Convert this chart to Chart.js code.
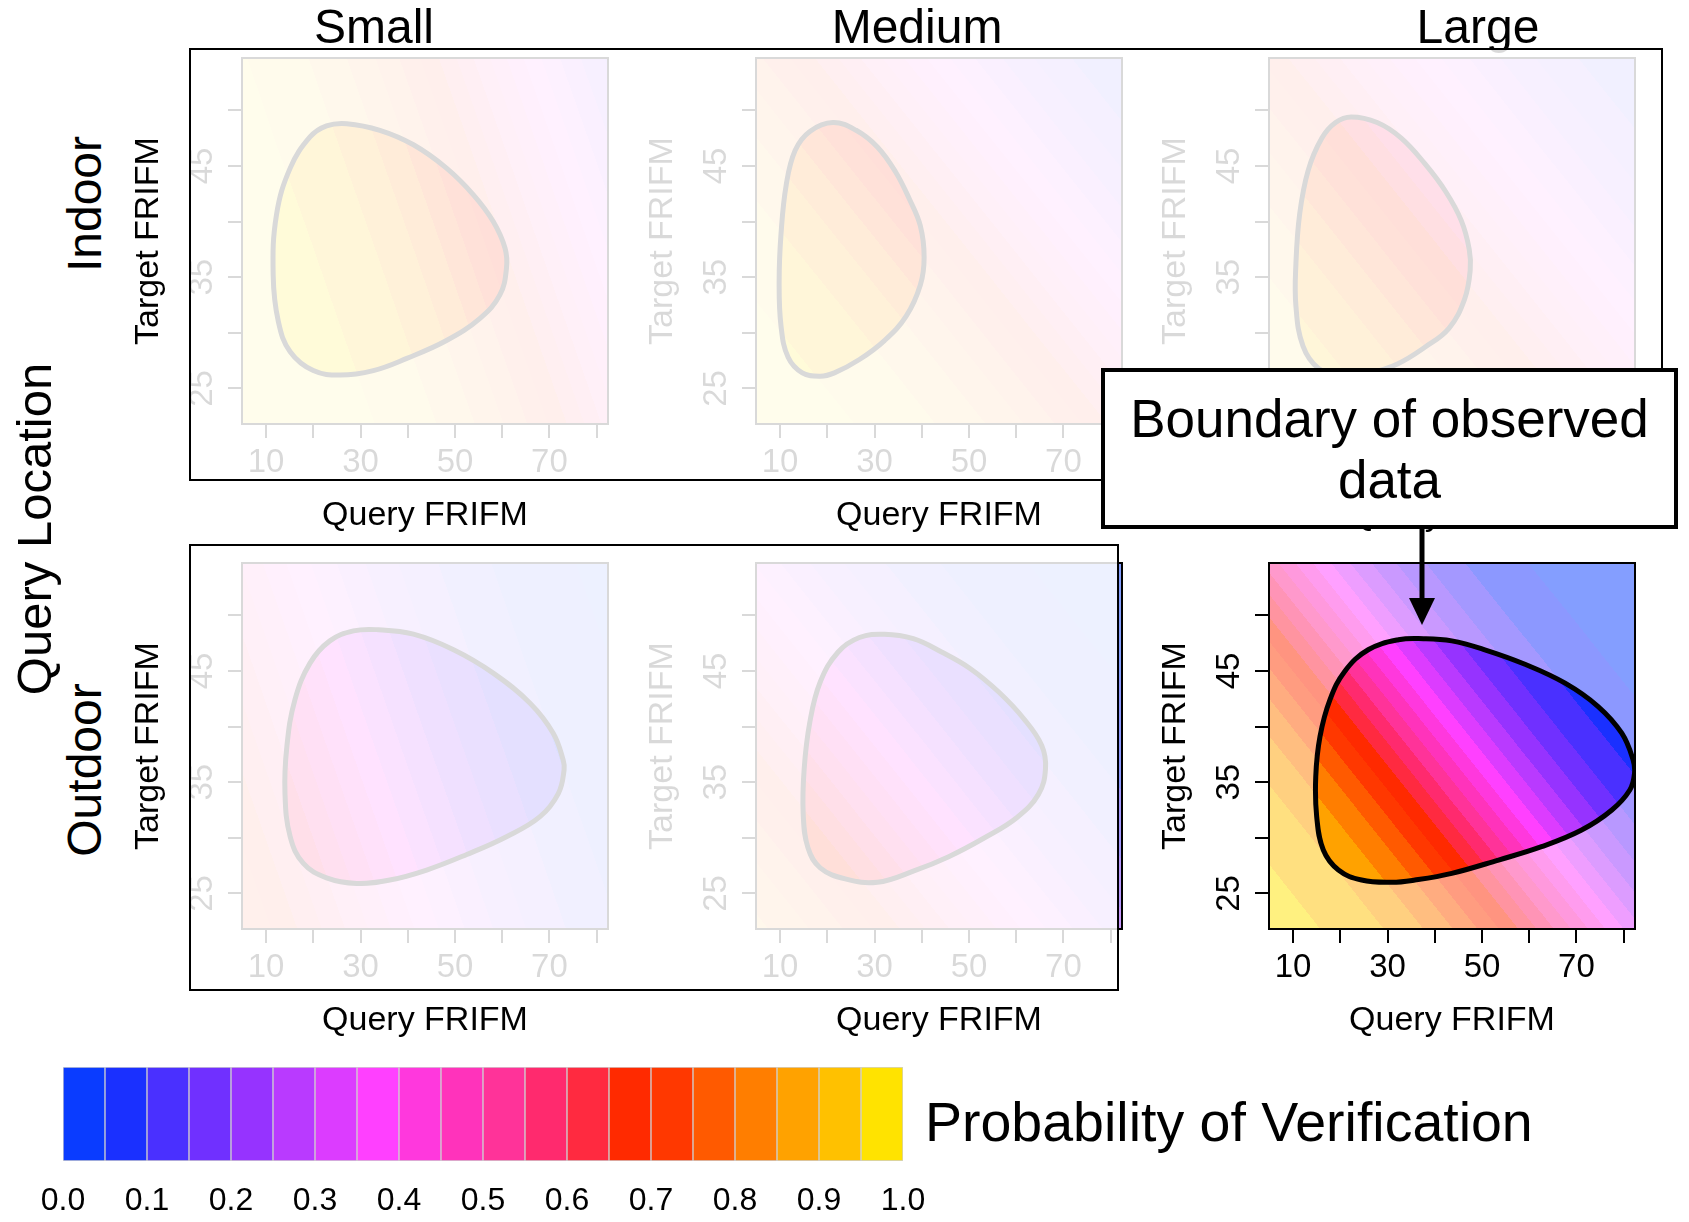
<!DOCTYPE html>
<html>
<head>
<meta charset="utf-8">
<script src="https://cdn.jsdelivr.net/npm/chart.js@4.4.1/dist/chart.umd.min.js"></script>
<style>
html, body { margin: 0; padding: 0; background: #fff; }
#page { position: relative; width: 1689px; height: 1222px; overflow: hidden;
        font-family: "Liberation Sans", Arial, Helvetica, sans-serif; color: #000; }
#page canvas { position: absolute; }
.lbl { position: absolute; white-space: nowrap; line-height: 1; z-index: 1; }
.side { z-index: 3; }
.fade { position: absolute; box-sizing: border-box; border: 2px solid #000;
        background: rgba(255,255,255,0.85); z-index: 2; }
#note { position: absolute; box-sizing: border-box; left: 1101px; top: 368px; width: 577px; height: 161px;
        border: 4px solid #000; background: #fff; z-index: 4; }
#noteText { position: absolute; left: 1101px; top: 389px; width: 577px; text-align: center;
            font-size: 53px; line-height: 60.5px; z-index: 5; }
#arrow { position: absolute; left: 0; top: 0; z-index: 5; }
</style>
</head>
<body>
<div id="page">
  <div id="note"></div>
  <div id="noteText">Boundary of observed<br>data</div>
  <svg id="arrow" width="1689" height="1222">
    <line x1="1422" y1="529" x2="1422" y2="600" stroke="#000" stroke-width="5"/>
    <polygon points="1409,598 1435,598 1422,625" fill="#000"/>
  </svg>
</div>
<script>
/* ============================================================
   Probability of verification – 2 x 3 panels + colour key
   ============================================================ */

const FONT = '"Liberation Sans", Arial, Helvetica, sans-serif';
Chart.defaults.font.family = FONT;

/* ── axes ── */
const xRange = [4.9, 82.4];
const yRange = [21.8, 54.7];
const xTickVals = [10, 20, 30, 40, 50, 60, 70, 80];
const xTickLabels = [10, 30, 50, 70];
const yTickVals = [25, 30, 35, 40, 45, 50];
const yTickLabels = [25, 35, 45];

const sizeNames = ['Small', 'Medium', 'Large'];
const locationNames = ['Indoor', 'Outdoor'];

/* ── colour key ── */
const keyBreaks = [0, 0.05, 0.1, 0.15, 0.2, 0.25, 0.3, 0.35, 0.4, 0.45, 0.5,
                   0.55, 0.6, 0.65, 0.7, 0.75, 0.8, 0.85, 0.9, 0.95, 1];
const keyColors = ['#0a3cff', '#1a30ff', '#4a30ff', '#7030ff', '#9633ff', '#b93aff', '#dc3cff',
                   '#ff40ff', '#ff38dd', '#ff33bb', '#ff3399', '#ff2a6e', '#ff2a40', '#ff2a00',
                   '#ff3800', '#ff5a00', '#ff7e00', '#ffa200', '#ffc100', '#ffe300'];
const keyTickVals = [0, 0.1, 0.2, 0.3, 0.4, 0.5, 0.6, 0.7, 0.8, 0.9, 1];

/* ── probability surface, read at grid nodes (rows: bottom -> top) ── */
const probX = [4.9, 24.3, 43.65, 63.0, 82.4];
const probY = [21.8, 30.0, 38.25, 46.5, 54.7];

const probSmallIndoor = [
  [0.989, 0.969, 0.912, 0.774, 0.530],
  [0.985, 0.955, 0.875, 0.699, 0.434],
  [0.978, 0.935, 0.827, 0.612, 0.342],
  [0.967, 0.907, 0.764, 0.517, 0.261],
  [0.953, 0.869, 0.687, 0.421, 0.193]
];
const probMediumIndoor = [
  [0.979, 0.953, 0.897, 0.790, 0.619],
  [0.960, 0.912, 0.817, 0.658, 0.454],
  [0.924, 0.840, 0.695, 0.496, 0.298],
  [0.861, 0.728, 0.537, 0.334, 0.178],
  [0.761, 0.579, 0.373, 0.205, 0.100]
];
const probLargeIndoor = [
  [0.959, 0.917, 0.841, 0.715, 0.544],
  [0.928, 0.860, 0.745, 0.582, 0.398],
  [0.877, 0.772, 0.617, 0.434, 0.267],
  [0.797, 0.651, 0.470, 0.297, 0.168],
  [0.684, 0.508, 0.330, 0.190, 0.100]
];
const probSmallOutdoor = [
  [0.751, 0.575, 0.378, 0.214, 0.109],
  [0.695, 0.505, 0.315, 0.171, 0.085],
  [0.632, 0.435, 0.257, 0.135, 0.065],
  [0.565, 0.368, 0.207, 0.105, 0.050],
  [0.495, 0.306, 0.165, 0.082, 0.038]
];
const probMediumOutdoor = [
  [0.863, 0.743, 0.572, 0.381, 0.221],
  [0.772, 0.609, 0.418, 0.249, 0.132],
  [0.645, 0.456, 0.279, 0.151, 0.076],
  [0.494, 0.310, 0.172, 0.087, 0.042],
  [0.345, 0.195, 0.101, 0.049, 0.023]
];
const probLargeOutdoor = [
  [0.972, 0.922, 0.802, 0.581, 0.320],
  [0.937, 0.834, 0.632, 0.370, 0.166],
  [0.862, 0.680, 0.420, 0.198, 0.078],
  [0.725, 0.473, 0.234, 0.095, 0.034],
  [0.528, 0.275, 0.115, 0.042, 0.015]
];

/* ── boundary of observed data [query, target] ── */
const boundSmallIndoor = [[27.1,48.8],[34.1,48.2],[41.2,46.9],[48.2,44.8],[53.9,42.4],[58.1,40.0],[60.6,37.6],
  [60.9,35.8],[59.5,33.4],[55.3,31.3],[48.2,29.3],[39.8,27.7],[32.7,26.6],[25.7,26.2],[20.0,26.6],[15.1,28.3],
  [12.6,31.0],[11.5,35.2],[12.2,40.6],[15.1,44.8],[19.3,47.6],[22.8,48.6]];
const boundMediumIndoor = [[21.2,48.9],[26.1,48.2],[30.6,46.7],[34.4,44.5],[37.4,42.0],[39.7,39.6],[40.5,36.8],
  [39.7,34.3],[36.7,31.5],[32.1,29.3],[26.8,27.6],[21.5,26.4],[18.5,26.1],[14.7,26.4],[11.7,27.8],[10.2,30.6],
  [9.8,34.6],[10.2,38.9],[11.3,43.3],[13.2,46.4],[16.3,48.1]];
const boundLargeIndoor = [[22.3,49.4],[27.8,48.9],[32.9,47.5],[37.9,45.2],[42.3,42.7],[45.6,40.1],[47.3,37.5],
  [47.5,35.6],[46.3,33.0],[43.0,30.4],[37.9,28.7],[32.1,27.2],[26.3,26.4],[20.5,26.1],[15.4,26.8],[12.1,28.8],
  [10.6,32.4],[10.6,36.2],[11.4,40.7],[13.2,44.6],[16.1,47.5],[19.0,48.9]];
const boundSmallOutdoor = [[33.8,48.7],[41.2,48.3],[49.7,46.9],[58.1,44.8],[65.9,42.1],[70.8,39.4],[72.9,37.0],
  [73.1,36.1],[71.9,34.0],[68.0,31.9],[60.9,30.1],[52.5,28.5],[44.0,27.1],[36.2,26.2],[29.2,25.9],[22.8,26.4],
  [17.9,27.7],[15.1,30.1],[14.0,34.0],[14.4,38.2],[16.1,42.4],[19.3,45.7],[23.5,47.7],[28.5,48.6]];
const boundMediumOutdoor = [[32.1,48.3],[38.2,47.9],[44.2,46.7],[50.3,45.2],[56.3,43.1],[61.6,40.7],[65.4,38.3],
  [66.2,36.2],[64.7,33.9],[60.1,31.8],[53.3,30.0],[45.7,28.3],[38.2,27.0],[30.6,26.0],[23.8,26.3],[18.5,27.3],
  [15.9,29.1],[14.9,32.1],[15.1,36.2],[16.3,40.4],[18.5,44.0],[22.3,46.7],[26.8,48.0]];
const boundLargeOutdoor = [[37.6,47.9],[43.6,47.7],[50.6,46.9],[59.1,45.6],[67.6,43.9],[74.6,41.8],[79.6,39.4],
  [82.0,37.0],[82.3,35.8],[81.3,34.3],[77.5,32.5],[71.1,30.7],[62.6,29.2],[53.5,28.0],[43.6,26.8],[35.8,26.2],
  [30.9,26.0],[24.5,26.2],[19.6,27.1],[16.4,28.9],[15.0,31.9],[14.8,35.5],[15.7,39.1],[17.8,42.4],[21.0,45.0],
  [25.9,46.9],[32.3,47.8]];

const panels = [
  { col: 0, row: 0, prob: probSmallIndoor,   bound: boundSmallIndoor },
  { col: 1, row: 0, prob: probMediumIndoor,  bound: boundMediumIndoor },
  { col: 2, row: 0, prob: probLargeIndoor,   bound: boundLargeIndoor },
  { col: 0, row: 1, prob: probSmallOutdoor,  bound: boundSmallOutdoor },
  { col: 1, row: 1, prob: probMediumOutdoor, bound: boundMediumOutdoor },
  { col: 2, row: 1, prob: probLargeOutdoor,  bound: boundLargeOutdoor }
];

/* ── page geometry (px) ── */
const plotLeft = [242, 756, 1269];
const plotTop = [58, 563];
const PLOT = 366, PAD_L = 120, PAD_T = 12, PAD_R = 20, AX_H = 115;

const page = document.getElementById('page');

/* ── helpers ── */
const hexRgb = h => [1, 3, 5].map(i => parseInt(h.slice(i, i + 2), 16));
const keyRgb = keyColors.map(hexRgb);
const logit = p => { const q = Math.min(0.999, Math.max(0.001, p)); return Math.log(q / (1 - q)); };

function locate(nodes, v) {
  let i = 0;
  while (i < nodes.length - 2 && v > nodes[i + 1]) i++;
  const t = Math.min(1, Math.max(0, (v - nodes[i]) / (nodes[i + 1] - nodes[i])));
  return [i, t];
}
// the node table is read between nodes on the logit scale
function probAt(lgrid, x, y) {
  const [i, tx] = locate(probX, x);
  const [j, ty] = locate(probY, y);
  const lo = lgrid[j][i] * (1 - tx) + lgrid[j][i + 1] * tx;
  const hi = lgrid[j + 1][i] * (1 - tx) + lgrid[j + 1][i + 1] * tx;
  return 1 / (1 + Math.exp(-(lo * (1 - ty) + hi * ty)));
}

function binOf(p) {
  for (let k = 0; k < keyColors.length; k++) if (p < keyBreaks[k + 1]) return k;
  return keyColors.length - 1;
}

/* Filled level plot: pale outside the boundary, full colour inside */
const levelPlugin = {
  id: 'level',
  beforeDatasetUpdate(chart, args) { if (args.meta.dataset) args.meta.dataset._loop = true; },
  afterDatasetUpdate(chart, args) { if (args.meta.dataset) args.meta.dataset._loop = true; },
  beforeDatasetsDraw(chart) {
    const lgrid = chart.options.plugins.level.grid.map(r => r.map(logit));
    const { ctx, chartArea: a, scales: { x, y } } = chart;
    const w = Math.round(a.right - a.left), h = Math.round(a.bottom - a.top);
    const full = document.createElement('canvas'), pale = document.createElement('canvas');
    full.width = pale.width = w; full.height = pale.height = h;
    const fctx = full.getContext('2d'), pctx = pale.getContext('2d');
    const fi = fctx.createImageData(w, h), pi = pctx.createImageData(w, h);
    const xv = [];
    for (let i = 0; i < w; i++) xv.push(x.getValueForPixel(a.left + i + 0.5));
    for (let j = 0; j < h; j++) {
      const yv = y.getValueForPixel(a.top + j + 0.5);
      for (let i = 0; i < w; i++) {
        const c = keyRgb[binOf(probAt(lgrid, xv[i], yv))];
        const o = (j * w + i) * 4;
        for (let k = 0; k < 3; k++) { fi.data[o + k] = c[k]; pi.data[o + k] = (c[k] + 255) / 2; }
        fi.data[o + 3] = 255; pi.data[o + 3] = 255;
      }
    }
    fctx.putImageData(fi, 0, 0);
    pctx.putImageData(pi, 0, 0);
    ctx.drawImage(pale, a.left, a.top);

    ctx.save();
    ctx.beginPath();
    const line = chart.getDatasetMeta(0).dataset;
    try {
      line.updateControlPoints(a, 'x');
      line.path(ctx);
    } catch (e) {
      chart.getDatasetMeta(0).data.forEach((p, k) => k ? ctx.lineTo(p.x, p.y) : ctx.moveTo(p.x, p.y));
    }
    ctx.closePath();
    ctx.clip();
    ctx.drawImage(full, a.left, a.top);
    ctx.restore();
  },
  afterDatasetsDraw(chart) {
    const { ctx, chartArea: a, scales: { y } } = chart;
    ctx.save();
    ctx.strokeStyle = '#000';
    ctx.lineWidth = 2;
    ctx.strokeRect(a.left, a.top, a.right - a.left, a.bottom - a.top);

    ctx.fillStyle = '#000';
    ctx.textAlign = 'center';
    ctx.textBaseline = 'alphabetic';
    // y tick labels, parallel to the axis
    ctx.font = '33px ' + FONT;
    yTickLabels.forEach(v => {
      ctx.save();
      ctx.translate(a.left - 30, y.getPixelForValue(v));
      ctx.rotate(-Math.PI / 2);
      ctx.fillText(String(v), 0, 0);
      ctx.restore();
    });
    // axis titles
    ctx.font = '34px ' + FONT;
    ctx.save();
    ctx.translate(a.left - 84, (a.top + a.bottom) / 2);
    ctx.rotate(-Math.PI / 2);
    ctx.fillText('Target FRIFM', 0, 0);
    ctx.restore();
    ctx.fillText('Query FRIFM', (a.left + a.right) / 2, a.bottom + 101);
    ctx.restore();
  }
};

/* ── panels ── */
panels.forEach(pn => {
  const cv = document.createElement('canvas');
  cv.width = PAD_L + PLOT + PAD_R;
  cv.height = PAD_T + PLOT + AX_H;
  cv.style.left = (plotLeft[pn.col] - PAD_L) + 'px';
  cv.style.top = (plotTop[pn.row] - PAD_T) + 'px';
  cv.style.zIndex = 1;
  page.appendChild(cv);

  new Chart(cv, {
    type: 'line',
    data: {
      datasets: [{
        data: pn.bound.map(([x, y]) => ({ x, y })),
        borderColor: '#000', borderWidth: 5, pointRadius: 0,
        tension: 0.4, spanGaps: true, fill: false
      }]
    },
    options: {
      responsive: false, animation: false, devicePixelRatio: 1, events: [],
      layout: { padding: { left: 0, top: PAD_T, right: PAD_R, bottom: 0 } },
      plugins: { legend: { display: false }, tooltip: { enabled: false }, level: { grid: pn.prob } },
      scales: {
        x: {
          type: 'linear', position: 'bottom', min: xRange[0], max: xRange[1],
          afterBuildTicks: s => { s.ticks = xTickVals.map(v => ({ value: v })); },
          afterFit: s => { s.height = AX_H; },
          grid: { drawOnChartArea: false, color: '#000', lineWidth: 2, tickLength: 14 },
          border: { display: false },
          ticks: {
            font: { size: 33 }, color: '#000', padding: 5, maxRotation: 0, autoSkip: false,
            callback: v => xTickLabels.includes(v) ? String(v) : ''
          }
        },
        y: {
          type: 'linear', position: 'left', min: yRange[0], max: yRange[1],
          afterBuildTicks: s => { s.ticks = yTickVals.map(v => ({ value: v })); },
          afterFit: s => { s.width = PAD_L; },
          grid: { drawOnChartArea: false, color: '#000', lineWidth: 2, tickLength: 14 },
          border: { display: false },
          ticks: { display: false }
        }
      }
    },
    plugins: [levelPlugin]
  });
});

/* ── colour key ── */
const kc = document.createElement('canvas');
kc.width = 940; kc.height = 164;
kc.style.left = '12.5px'; kc.style.top = '1057px';
page.appendChild(kc);
new Chart(kc, {
  type: 'bar',
  data: {
    datasets: [{
      data: keyColors.map((c, k) => ({ x: (keyBreaks[k] + keyBreaks[k + 1]) / 2, y: 1 })),
      backgroundColor: keyColors, borderColor: '#d0d0d0', borderWidth: 1, borderSkipped: false,
      barPercentage: 1, categoryPercentage: 1
    }]
  },
  options: {
    responsive: false, animation: false, devicePixelRatio: 1, events: [],
    layout: { padding: { left: 50, right: 50, top: 10, bottom: 0 } },
    plugins: { legend: { display: false }, tooltip: { enabled: false } },
    scales: {
      x: {
        type: 'linear', min: 0, max: 1, offset: false,
        afterBuildTicks: s => { s.ticks = keyTickVals.map(v => ({ value: v })); },
        afterFit: s => { s.height = 60; },
        grid: { display: false, drawTicks: false }, border: { display: false },
        ticks: { font: { size: 32 }, color: '#000', padding: 21, maxRotation: 0, autoSkip: false,
                 callback: v => v.toFixed(1) }
      },
      y: { display: false, min: 0, max: 1 }
    }
  }
});

/* ── text and frames ── */
function addText(txt, fs, cx, baseline, rotated, cls) {
  const d = document.createElement('div');
  d.className = 'lbl' + (cls ? ' ' + cls : '');
  d.textContent = txt;
  d.style.fontSize = fs + 'px';
  if (rotated) {
    // baseline is the right edge of the turned text
    d.style.left = (baseline - 0.3465 * fs) + 'px';
    d.style.top = cx + 'px';
    d.style.transform = 'translate(-50%,-50%) rotate(-90deg)';
  } else {
    d.style.left = cx + 'px';
    d.style.top = (baseline - 0.8465 * fs) + 'px';
    d.style.transform = 'translateX(-50%)';
  }
  page.appendChild(d);
}

[374, 917, 1478].forEach((cx, i) => addText(sizeNames[i], 48, cx, 44, false));
[204, 770].forEach((cy, i) => addText(locationNames[i], 48, cy, 102, true, 'side'));
addText('Query Location', 49, 529, 51, true, 'side');

const keyTitle = document.createElement('div');
keyTitle.className = 'lbl side';
keyTitle.textContent = 'Probability of Verification';
keyTitle.style.fontSize = '55.5px';
keyTitle.style.left = '925px';
keyTitle.style.top = (1142 - 0.8465 * 55.5) + 'px';
page.appendChild(keyTitle);

// washed-out frames over the panels that are not in focus
[[189, 48, 1474, 433], [189, 544, 930, 447]].forEach(([l, t, w, h]) => {
  const f = document.createElement('div');
  f.className = 'fade';
  Object.assign(f.style, { left: l + 'px', top: t + 'px', width: w + 'px', height: h + 'px' });
  page.appendChild(f);
});
</script>
</body>
</html>
